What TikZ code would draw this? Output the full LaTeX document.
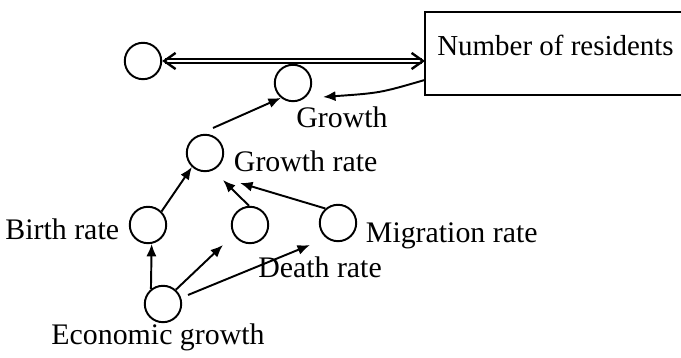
\documentclass[tikz,border=0pt]{standalone}
\usepackage{fontspec}
\setmainfont{Liberation Serif}
\usetikzlibrary{arrows.meta}
\usetikzlibrary{calc}

\begin{document}
\begin{tikzpicture}[x=0.335pt,y=-0.335pt,line width=0.65pt,
  aux/.style={circle,draw,minimum size=12.2pt,inner sep=0pt},
  lab/.style={anchor=base,inner sep=0pt},
  arr/.style={-{Latex[length=4.2pt,width=3.4pt]}},
  barb/.tip={Straight Barb[line width=0.8pt,length=3.8pt,width=5.4pt]}]
\useasboundingbox (0,0) rectangle (681,358);
\coordinate (edge) at (681,0);
\node[aux] (src) at (143,61) {};
\node[anchor=north west,minimum height=27.1pt,align=flush left,
  inner xsep=3.8pt,text depth=5.2pt,font=\fontsize{9.7}{12}\selectfont] (res) at (425,12) {Number of residents};
\draw (res.north west -| edge) -- (res.north west) -- (res.south west) -- (res.south west -| edge);
\node[aux] (growth) at (293,83) {};
\node[aux] (rate) at (205,153) {};
\node[aux] (birth) at (148,225) {};
\node[aux] (death) at (250,225) {};
\node[aux] (migr) at (338,223) {};
\node[aux] (econ) at (163,304) {};
\node[lab] (lgrowth) at (342,128) {Growth};
\node[lab,anchor=base west] (lrate) at (233,172) {Growth rate};
\node[lab,anchor=base east] (lbirth) at (120,240) {Birth rate};
\node[lab] (ldeath) at (320,278) {Death rate};
\node[lab,anchor=base west] (lmigr) at (365,243) {Migration rate};
\node[lab] (lecon) at (158,345) {Economic growth};
\draw[double,double distance=0.8pt,line width=0.45pt,barb-barb] (src.east) -- (src.east -| res.west);
\draw[arr] ([yshift=5pt]res.south west) .. controls (380,93) .. ($(growth)+(30,14)$);
\draw[arr] ($(rate)+(8,-25)$) -- (growth.231);
\draw[arr] (birth.45) -- (rate.227);
\draw[arr] (death.93) -- ($(rate)+(18,27)$);
\draw[arr] (migr.131) -- ($(rate)+(35,30)$);
\draw[arr] (econ.129) -- (birth.-79);
\draw[arr] (econ.48) -- ($(death)+(-27,20)$);
\draw[arr] ($(econ)+(25,-9)$) -- ($(migr)+(-28,22)$);
\end{tikzpicture}
\end{document}
